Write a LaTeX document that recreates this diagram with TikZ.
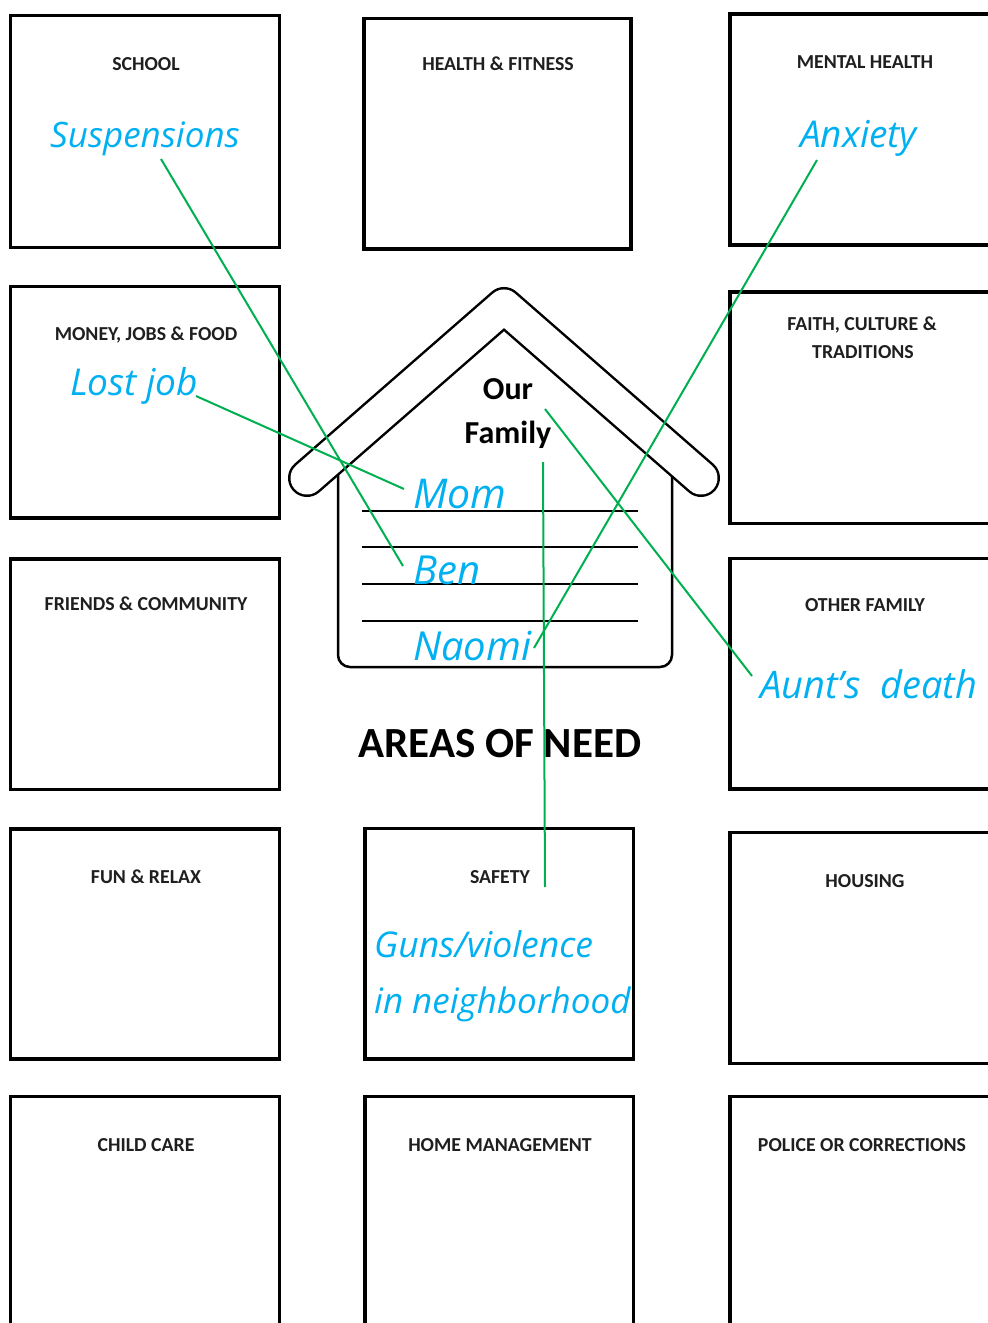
\documentclass[tikz,border=0pt]{standalone}
\usepackage{fontspec}
\newfontfamily\labfont{Carlito}
\newfontfamily\handfont{Open Sans}
\definecolor{handc}{HTML}{00B0F0}
\definecolor{connc}{HTML}{00B050}
\begin{document}
\begin{tikzpicture}[x=1pt,y=-1pt,
  box/.style={draw=black,line width=3.4pt},
  lab/.style={font=\labfont\bfseries\fontsize{19.8}{22}\selectfont,text=black!88,inner sep=0pt,anchor=base},
  hw/.style={font=\handfont\itshape\fontsize{37}{40}\selectfont,text=handc,inner sep=0pt,anchor=base west},
  conn/.style={draw=connc,line width=2pt},
  fam/.style={font=\labfont\bfseries\fontsize{32}{34}\selectfont,text=black,inner sep=0pt,anchor=base},
  rule/.style={draw=black,line width=1.6pt}]
\useasboundingbox[fill=white] (0,0) rectangle (988,1323);
% boxes
\draw[box] (10.5,15.5) rectangle (279.5,247.5);
\draw[box] (364,18.5) rectangle (631,249);
\draw[box] (730,14) rectangle (1000,245);
\draw[box] (10.5,286.5) rectangle (279.5,518);
\draw[box] (730,292) rectangle (1000,523.5);
\draw[box] (10.5,559) rectangle (279.5,789.5);
\draw[box] (730,558.5) rectangle (1000,789);
\draw[box] (10.5,829) rectangle (279.5,1059);
\draw[box] (365,828.5) rectangle (633.5,1059);
\draw[box] (730,832.5) rectangle (1000,1063.5);
\draw[box] (10.5,1096.5) rectangle (279.5,1340);
\draw[box] (365,1096.5) rectangle (633.5,1340);
\draw[box] (730,1096.5) rectangle (1000,1340);
% box labels
\node[lab] (school) at (146,70) {SCHOOL};
\node[lab] (health) at (498,70) {HEALTH \& FITNESS};
\node[lab] (mental) at (865,68) {MENTAL HEALTH};
\node[lab] (money) at (146,340) {MONEY, JOBS \& FOOD};
\node[lab] (faith1) at (862,330) {FAITH, CULTURE \&};
\node[lab] (faith2) at (863,358) {TRADITIONS};
\node[lab] (friends) at (146,610) {FRIENDS \& COMMUNITY};
\node[lab] (other) at (865,611) {OTHER FAMILY};
\node[lab] (fun) at (146,883) {FUN \& RELAX};
\node[lab] (safety) at (500,883) {SAFETY};
\node[lab] (housing) at (865,887) {HOUSING};
\node[lab] (child) at (146,1151) {CHILD CARE};
\node[lab] (homem) at (500,1151) {HOME MANAGEMENT};
\node[lab] (police) at (862,1151) {POLICE OR CORRECTIONS};
% house
\draw[line width=2.5pt,rounded corners=12pt] (338,470) -- (338,667) -- (672,667) -- (672,470);
\draw[line width=38pt,line cap=round,line join=round] (307,478) -- (504,306) -- (701,478);
\draw[white,line width=33pt,line cap=round,line join=round] (307,478) -- (504,306) -- (701,478);
\foreach \yy in {511,547,584,621} \draw[rule] (362,\yy) -- (638,\yy);
\node[fam] (our) at (508,399) {Our};
\node[fam] (family) at (508,443) {Family};
\node[font=\labfont\bfseries\fontsize{43}{46}\selectfont,inner sep=0pt,anchor=base] (areas) at (500,757) {AREAS OF NEED};
% handwriting
\node[hw,font=\handfont\itshape\fontsize{35}{40}\selectfont] (susp) at (50,147) {Suspensions};
\node[hw] (anx) at (800,147) {Anxiety};
\node[hw] (lost) at (70,395) {Lost job};
\node[hw,font=\handfont\itshape\fontsize{41}{40}\selectfont] (mom) at (413,508) {Mom};
\node[hw,font=\handfont\itshape\fontsize{40}{40}\selectfont] (ben) at (413,584) {Ben};
\node[hw,font=\handfont\itshape\fontsize{40}{40}\selectfont] (naomi) at (413,660) {Naomi};
\node[hw,font=\handfont\itshape\fontsize{38}{40}\selectfont] (aunt) at (760,698) {Aunt’s\ \ death};
\node[hw,font=\handfont\itshape\fontsize{35.5}{40}\selectfont] (guns) at (374,957) {Guns/violence};
\node[hw,font=\handfont\itshape\fontsize{35}{40}\selectfont] (neigh) at (374,1013) {in neighborhood};
% connector ends
\coordinate (c-susp) at (161,159);
\coordinate (c-ben) at (403,566);
\coordinate (c-lost) at (196,396);
\coordinate (c-mom) at (404,489);
\coordinate (c-anx) at (817,160);
\coordinate (c-naomi) at (534,648);
\coordinate (c-our) at (545,409);
\coordinate (c-aunt) at (752,676);
\coordinate (c-fam) at (543,462);
\coordinate (c-safe) at (545,887);
\draw[conn] (c-susp) -- (c-ben);
\draw[conn] (c-lost) -- (c-mom);
\draw[conn] (c-anx) -- (c-naomi);
\draw[conn] (c-our) -- (c-aunt);
\draw[conn] (c-fam) -- (c-safe);
\end{tikzpicture}
\end{document}
